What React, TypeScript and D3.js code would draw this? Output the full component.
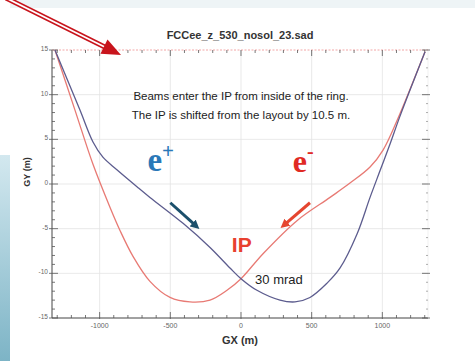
import React, { useEffect, useRef } from "react";
import * as d3 from "d3";

// e+ orbit (blue)
const blueGX = [-1316, -1140, -1047, -977, -878, -736, -644, -410, -219, -78, 0, 113, 276, 382, 488, 609, 701, 821, 913, 984, 1055, 1125, 1302];
const blueGY = [15, 8.3, 4.7, 3.0, 1.6, -0.3, -1.5, -4.4, -7.1, -9.4, -10.6, -11.9, -13.0, -13.2, -12.7, -11.1, -9.4, -5.6, -1.5, 1.5, 4.5, 7.6, 14.8];

// e- orbit (red)
const redGX = [-1316, -1175, -1047, -927, -856, -764, -644, -502, -361, -219, -99, 0, 156, 396, 630, 771, 913, 1005, 1104, 1302];
const redGY = [15, 8.3, 2.2, -2.6, -5.2, -8.1, -10.9, -12.7, -13.2, -13.0, -11.9, -10.6, -7.8, -4.1, -1.5, 0.1, 1.9, 3.8, 7.1, 14.8];

const xTicks = [-1000, -500, 0, 500, 1000];
const yTicks = [-15, -10, -5, 0, 5, 10, 15];

const App: React.FC = () => {
    const svgRef = useRef<SVGSVGElement | null>(null);

    useEffect(() => {
        if (!svgRef.current) return;
        const svg = d3.select(svgRef.current);
        svg.selectAll("*").remove();

        const x = d3.scaleLinear().domain([-1337, 1323]).range([52, 428]);
        const y = d3.scaleLinear().domain([-15, 15]).range([318, 50]);
        const font = "'Liberation Sans', Arial, sans-serif";

        // background bits from the slide
        svg.append("rect").attr("x", 0).attr("y", 0).attr("width", 475).attr("height", 361).attr("fill", "#fff");
        svg.append("rect").attr("x", 10).attr("y", 0).attr("width", 465).attr("height", 8).attr("fill", "#eef4f6");
        const grad = svg.append("defs").append("linearGradient").attr("id", "side").attr("x1", 0).attr("y1", 0).attr("x2", 0).attr("y2", 1);
        grad.append("stop").attr("offset", "0%").attr("stop-color", "#d3e8ef");
        grad.append("stop").attr("offset", "100%").attr("stop-color", "#7db4c6");
        svg.append("rect").attr("x", 0).attr("y", 155).attr("width", 10).attr("height", 206).attr("fill", "url(#side)");

        // grid
        svg.append("g").selectAll("line").data(xTicks).enter().append("line")
            .attr("x1", d => x(d)).attr("x2", d => x(d)).attr("y1", y(15)).attr("y2", y(-15))
            .attr("stroke", "#e3e3e3").attr("stroke-width", 0.8);
        svg.append("g").selectAll("line").data(yTicks.slice(1, -1)).enter().append("line")
            .attr("x1", x.range()[0]).attr("x2", x.range()[1]).attr("y1", d => y(d)).attr("y2", d => y(d))
            .attr("stroke", "#e3e3e3").attr("stroke-width", 0.8);

        const [x0, x1] = x.range();
        const [yb, yt] = y.range();

        // frame
        svg.append("line").attr("x1", x0).attr("x2", x1).attr("y1", yb).attr("y2", yb).attr("stroke", "#444").attr("stroke-width", 1);
        svg.append("line").attr("x1", x0).attr("x2", x0).attr("y1", yt).attr("y2", yb).attr("stroke", "#444").attr("stroke-width", 1);
        svg.append("line").attr("x1", x0).attr("x2", x1).attr("y1", yt).attr("y2", yt).attr("stroke", "#f2a6a6").attr("stroke-width", 1).attr("stroke-dasharray", "2,1.5");
        svg.append("line").attr("x1", x1).attr("x2", x1).attr("y1", yt).attr("y2", yb).attr("stroke", "#e8e8e8").attr("stroke-width", 0.6);

        // minor ticks
        const xMinor = d3.range(-1300, 1301, 100).filter(v => v % 500 !== 0);
        const yMinor = d3.range(-14, 15, 1).filter(v => v % 5 !== 0);
        const tk = svg.append("g").attr("stroke", "#555").attr("stroke-width", 0.8);
        xMinor.forEach(v => {
            tk.append("line").attr("x1", x(v)).attr("x2", x(v)).attr("y1", yb).attr("y2", yb - 3);
            tk.append("line").attr("x1", x(v)).attr("x2", x(v)).attr("y1", yt).attr("y2", yt + 3);
        });
        yMinor.forEach(v => {
            tk.append("line").attr("x1", x0).attr("x2", x0 + 3).attr("y1", y(v)).attr("y2", y(v));
            tk.append("line").attr("x1", x1).attr("x2", x1 - 2).attr("y1", y(v)).attr("y2", y(v)).attr("stroke", "#999");
        });
        // major ticks
        xTicks.forEach(v => {
            tk.append("line").attr("x1", x(v)).attr("x2", x(v)).attr("y1", yb + 1).attr("y2", yb - 6);
            tk.append("line").attr("x1", x(v)).attr("x2", x(v)).attr("y1", yt).attr("y2", yt + 6);
        });
        yTicks.forEach(v => {
            tk.append("line").attr("x1", x0 - 3).attr("x2", x0 + 6).attr("y1", y(v)).attr("y2", y(v));
            tk.append("line").attr("x1", x1 + 2).attr("x2", x1 - 6).attr("y1", y(v)).attr("y2", y(v));
        });

        // tick labels
        svg.append("g").selectAll("text").data(xTicks).enter().append("text")
            .attr("x", d => x(d)).attr("y", yb + 10).attr("text-anchor", "middle")
            .style("font-size", "7px").style("font-family", font).attr("fill", "#666")
            .text(d => d);
        svg.append("g").selectAll("text").data(yTicks).enter().append("text")
            .attr("x", x0 - 4).attr("y", d => y(d) + 1).attr("text-anchor", "end")
            .style("font-size", "6.5px").style("font-family", font).attr("fill", "#666")
            .text(d => d);

        // axis titles
        svg.append("text").attr("x", (x0 + x1) / 2).attr("y", 344).attr("text-anchor", "middle")
            .style("font-size", "11px").style("font-weight", "bold").style("font-family", font).attr("fill", "#333")
            .text("GX (m)");
        svg.append("text").attr("transform", `translate(30,172) rotate(-90)`).attr("text-anchor", "middle")
            .style("font-size", "9px").style("font-weight", "bold").style("font-family", font).attr("fill", "#333")
            .text("GY (m)");
        svg.append("text").attr("x", (x0 + x1) / 2).attr("y", 39).attr("text-anchor", "middle")
            .style("font-size", "11px").style("font-weight", "bold").style("font-family", font).attr("fill", "#333")
            .text("FCCee_z_530_nosol_23.sad");

        // orbits
        const line = d3.line<[number, number]>().x(d => x(d[0])).y(d => y(d[1])).curve(d3.curveCatmullRom.alpha(0.5));
        svg.append("path").datum(redGX.map((v, i) => [v, redGY[i]] as [number, number]))
            .attr("d", line).attr("fill", "none").attr("stroke", "#e87a74").attr("stroke-width", 1.3);
        svg.append("path").datum(blueGX.map((v, i) => [v, blueGY[i]] as [number, number]))
            .attr("d", line).attr("fill", "none").attr("stroke", "#5c5c8e").attr("stroke-width", 1.3);

        // annotations
        const note = svg.append("text").attr("text-anchor", "middle")
            .style("font-size", "11.5px").style("font-family", font).attr("fill", "#222");
        note.append("tspan").attr("x", x(0)).attr("y", 100).text("Beams enter the IP from inside of the ring.");
        note.append("tspan").attr("x", x(0)).attr("y", 119).text("The IP is shifted from the layout by 10.5 m.");

        const ep = svg.append("text").attr("x", x(-662)).attr("y", y(1.4))
            .style("font-size", "33px").style("font-weight", "bold").style("font-family", "'Liberation Serif', serif").attr("fill", "#2a78b8");
        ep.append("tspan").text("e");
        ep.append("tspan").attr("dy", -13).style("font-size", "21px").text("+");
        const em = svg.append("text").attr("x", x(366)).attr("y", y(1.3))
            .style("font-size", "32px").style("font-weight", "bold").style("font-family", "'Liberation Serif', serif").attr("fill", "#e02a24");
        em.append("tspan").text("e");
        em.append("tspan").attr("dy", -14).style("font-size", "20px").text("-");

        svg.append("text").attr("x", x(-65)).attr("y", y(-7.6))
            .style("font-size", "21px").style("font-weight", "bold").style("font-family", font).attr("fill", "#e8402f")
            .text("IP");
        svg.append("text").attr("x", x(100)).attr("y", y(-11.2))
            .style("font-size", "13px").style("font-family", font).attr("fill", "#222")
            .text("30 mrad");

        // direction arrows
        const defs = svg.append("defs");
        const mk = (id: string, color: string) => defs.append("marker").attr("id", id)
            .attr("viewBox", "0 0 10 10").attr("refX", 5).attr("refY", 5)
            .attr("markerWidth", 3).attr("markerHeight", 3).attr("orient", "auto")
            .append("path").attr("d", "M0,0L10,5L0,10z").attr("fill", color);
        mk("hb", "#1b4f6b");
        mk("hr", "#e5452f");
        svg.append("line").attr("x1", x(-500)).attr("y1", y(-2.1)).attr("x2", x(-318)).attr("y2", y(-4.7))
            .attr("stroke", "#1b4f6b").attr("stroke-width", 3).attr("marker-end", "url(#hb)");
        svg.append("line").attr("x1", x(488)).attr("y1", y(-2.1)).attr("x2", x(304)).attr("y2", y(-4.6))
            .attr("stroke", "#e5452f").attr("stroke-width", 3).attr("marker-end", "url(#hr)");

        // big hollow arrow pointing at the plot
        const tip: [number, number] = [121, 55];
        const tail: [number, number] = [6, -2];
        const dx = tip[0] - tail[0], dy = tip[1] - tail[1];
        const len = Math.hypot(dx, dy);
        const ux = dx / len, uy = dy / len;
        const hl = 19, hw = 8;
        const bx = tip[0] - ux * hl, by = tip[1] - uy * hl;
        svg.append("line").attr("x1", tail[0]).attr("y1", tail[1]).attr("x2", bx + ux * 2).attr("y2", by + uy * 2)
            .attr("stroke", "#c8141c").attr("stroke-width", 5);
        svg.append("line").attr("x1", tail[0]).attr("y1", tail[1]).attr("x2", bx + ux * 2).attr("y2", by + uy * 2)
            .attr("stroke", "#fff").attr("stroke-width", 1.8);
        svg.append("path")
            .attr("d", `M${tip[0]},${tip[1]}L${bx - uy * hw},${by + ux * hw}L${bx + uy * hw},${by - ux * hw}Z`)
            .attr("fill", "#c8141c");
    }, []);

    return (
        <svg ref={svgRef} width={475} height={361} style={{ position: "absolute", left: 0, top: 0 }}></svg>
    );
};

export default App;
